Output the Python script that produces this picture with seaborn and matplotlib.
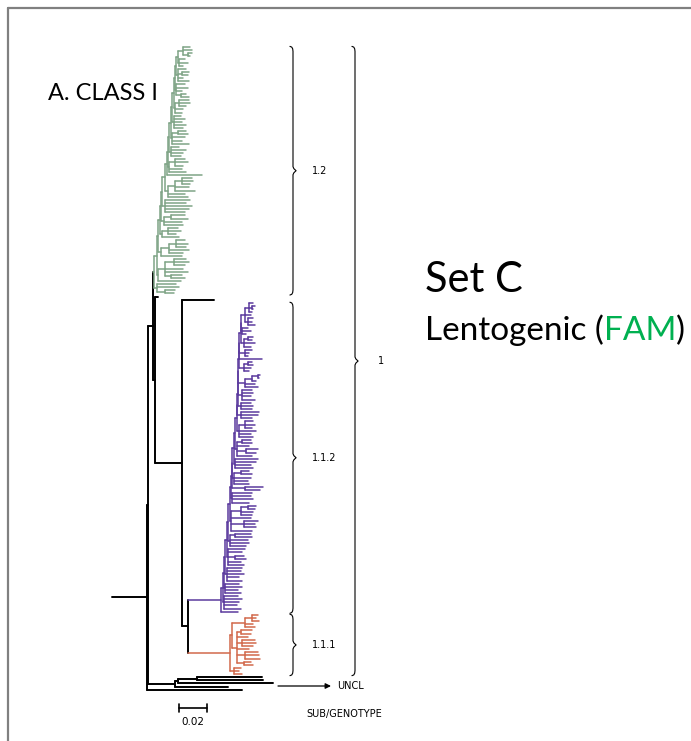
import matplotlib
matplotlib.use("Agg")
import matplotlib.pyplot as plt
import seaborn as sns
import pandas as pd
from matplotlib.lines import Line2D

# node / tip depths in 0.001 substitutions per site, counted from the left end of the root branch
# green clade (1.2) is a ladder: spine nodes and the groups hanging off them, listed top to bottom
GREEN_SPINE = [47, 46, 45, 44, 43, 42, 41, 40, 39, 38, 36, 35, 34, 33, 32, 30]
GREEN_GROUPS = [
    (51, [56, 57, (54, [57, 56])]),
    (48, [52, 54, 51]),
    (47, [53, (50, [55, 54]), 51, 55]),
    (46, [52, 54, 50, (49, [53, 55])]),
    (45, [(48, [55, 56, 53]), 51, 50]),
    (44, [49, 52, 50, 53, 51]),
    (43, [(47, [53, 54]), 52, 50, 55]),
    (42, [48, 53, 51, 49]),
    (41, [(45, [52, 54, 51]), 50, 53]),
    64,
    (40, [(45, [(50, [57, 58, 56]), 55, 59]), 52, 54]),
    (38, [56, 53, 57, 55, 52]),
    (37, [(42, [52, 54]), 50, 51]),
    (36, [(40, [47, 49, 46]), 48]),
    (35, [(41, [(46, [52, 54, 53]), 55, 51]), 50]),
    (33, [(38, [(44, [53, 55, 52]), 51, 54, (42, [50, 52])]), 49]),
    (32, [46, 48, (38, [45, 44])]),
]

# purple clade (1.1.2)
PURPLE_ROOT = 78
PURPLE_BASAL_TIP = 90
PURPLE_SPINE = [92, 92, 91, 91, 91, 90, 90, 90, 89, 89, 88, 87, 86, 86, 85, 84, 83, 82, 81, 80, 79]
PURPLE_GROUPS = [
    (95, [(98, [101, (100, [102, 101]), 100]), 99, (97, [101, 100, 102])]),
    (93, [97, 99, 96]),
    (94, [(97, [101, 100]), 102, 99]),
    (95, [100, 98, 97]),
    107,
    (94, [(97, [100, 101]), 99, 98]),
    (95, [(100, [(104, [106, 105]), 103]), 102, 104]),
    (93, [100, 101, 99, 102]),
    (92, [99, 101, 100]),
    (92, [105, 104, 100]),
    (91, [(95, [101, 102, 100]), 103, 99, 101]),
    (89, [(93, [99, 100]), 98, (96, [104, 103]), 100]),
    (88, [104, 103, 99, 101]),
    (87, [(92, [98, 100]), 99, 97, 98]),
    (95, [108, 106]),
    (86, [100, 99, 101, 98]),
    (85, [(92, [(97, [103, 102]), 101, 100]), 99, (94, [104, 102, 103]), 100]),
    (84, [(88, [99, 100]), 97, 98, 96]),
    (83, [95, 93, (88, [94, 96]), 92, 94]),
    (82, [93, 92, 94, 91, 93]),
    (81, [91, 93, 90, 92]),
    (80, [90, 93, 91, 89, 92]),
]

# orange clade (1.1.1)
ORANGE_ROOT = 84
ORANGE_CHILDREN = [
    (86, [(95, [(100, [104, 103, 105]), 101, 102]),
          (89, [(92, [100, 99]), 97, (93, [102, 103, 101]), 98, (95, [104, 105, 106]), (94, [99, 101])])]),
    (87, [92, 91, 93]),
]

# black backbone and unclassified sequences
NODE_R, NODE_A, NODE_B, NODE_C, NODE_D, NODE_E = 25, 26, 29, 31, 50, 54
STUB_TIP, LONG_TIP = 33, 73
UNCL_CLADE = (45, [(47, [(61, [107, 108]), 115]), 83])
UNCL_TIP = 93

SCALE_BAR = 0.02
PALETTE = {"1.2": "#7fa486", "1.1.2": "#5b3a9e", "1.1.1": "#d2694c"}


def ladder(spine, groups):
    node = groups[0]
    for depth, grp in zip(spine, groups[1:]):
        node = (depth, [node, grp])
    return node


green = {"clade": "1.2", "tree": ladder(GREEN_SPINE, GREEN_GROUPS)}
purple = {"clade": "1.1.2", "tree": (PURPLE_ROOT, [ladder(PURPLE_SPINE, PURPLE_GROUPS), PURPLE_BASAL_TIP])}
orange = {"clade": "1.1.1", "tree": (ORANGE_ROOT, ORANGE_CHILDREN)}
tree = (NODE_R, [
    (NODE_A, [
        (NODE_B, [green, (NODE_C, [STUB_TIP, (NODE_D, [LONG_TIP, (NODE_E, [purple, orange])])])]),
        UNCL_CLADE]),
    UNCL_TIP])

rows = []
leaves = {}
counter = [0]


def add_seg(x0, x1, y0, y1, clade):
    s = len(rows) // 2
    rows.append((s, x0, y0, clade))
    rows.append((s, x1, y1, clade))


def walk(node, parent, clade):
    if isinstance(node, dict):
        return walk(node["tree"], parent, node["clade"])
    if not isinstance(node, tuple):
        y = counter[0]
        counter[0] += 1
        leaves.setdefault(clade, []).append(y)
        add_seg(parent, node, y, y, clade)
        return y
    depth, kids = node
    ys = [walk(k, depth, clade) for k in kids]
    y = (ys[0] + ys[-1]) / 2
    add_seg(depth, depth, ys[0], ys[-1], clade)
    add_seg(parent, depth, y, y, clade)
    return y


walk(tree, 0, "other")
df = pd.DataFrame(rows, columns=["seg", "x", "y", "clade"])

sns.set_style("white")
plt.rcParams["text.color"] = "black"
W, H = 691, 741
fig = plt.figure(figsize=(W / 100, H / 100), dpi=100)
ax = fig.add_axes([0, 0, 1, 1])

sns.lineplot(data=df[df.clade == "other"], x="x", y="y", units="seg", estimator=None,
             sort=False, color="black", linewidth=1.4, ax=ax)
sns.lineplot(data=df[df.clade != "other"], x="x", y="y", units="seg", estimator=None,
             sort=False, hue="clade", palette=PALETTE, linewidth=1.1, legend=False, ax=ax)

# map data units onto the page
PX0, PX_PER_UNIT = 112, 1.4
PY0, PY_PER_LEAF = 47, 3.12
ax.set_xlim(-PX0 / PX_PER_UNIT, (W - PX0) / PX_PER_UNIT)
ax.set_ylim((H - PY0) / PY_PER_LEAF, -PY0 / PY_PER_LEAF)
ax.set_axis_off()


def dx(px):
    return (px - PX0) / PX_PER_UNIT


def dy(py):
    return (py - PY0) / PY_PER_LEAF


def brace(x, y0, y1, label, label_x):
    w, h = 2.2, 1.6
    ym = (y0 + y1) / 2
    xs = [x - w, x - 0.4 * w, x - 0.1 * w, x, x, x + 0.3 * w, x + w, x + 0.3 * w, x, x, x - 0.1 * w, x - 0.4 * w, x - w]
    ys = [y0, y0 + 0.15 * h, y0 + 0.5 * h, y0 + h, ym - 0.8 * h, ym - 0.4 * h, ym, ym + 0.4 * h, ym + 0.8 * h,
          y1 - h, y1 - 0.5 * h, y1 - 0.15 * h, y1]
    ax.plot(xs, ys, color="black", lw=0.8)
    ax.text(label_x, ym, label, fontsize=7, va="center", ha="left", family="DejaVu Sans", color="black")


for name in ["1.2", "1.1.2", "1.1.1"]:
    ys = leaves[name]
    brace(dx(293), min(ys) - 0.2, max(ys) + 0.5, name, dx(312))
brace(dx(355), min(leaves["1.2"]) - 0.2, max(leaves["1.1.1"]) + 0.5, "1", dx(378))

# unclassified arrow
ax.annotate("", xy=(dx(331), dy(686)), xytext=(dx(278), dy(686)),
            arrowprops=dict(arrowstyle="-|>", color="black", lw=0.9, mutation_scale=8, shrinkA=0, shrinkB=0))
ax.text(dx(337), dy(686), "UNCL", fontsize=7, va="center", ha="left", family="DejaVu Sans", color="black")
ax.text(dx(306), dy(714), "SUB/GENOTYPE", fontsize=7, va="center", ha="left", family="DejaVu Sans", color="black")

# scale bar
sx, sy = dx(179), dy(708)
ax.plot([sx, sx + SCALE_BAR * 1000], [sy, sy], color="black", lw=1.2)
ax.plot([sx, sx], [sy - 1.3, sy + 1.3], color="black", lw=1.2)
ax.plot([sx + SCALE_BAR * 1000] * 2, [sy - 1.3, sy + 1.3], color="black", lw=1.2)
ax.text(sx + SCALE_BAR * 500, dy(722), f"{SCALE_BAR}", fontsize=7.5, ha="center", va="center",
        family="DejaVu Sans", color="black")

# titles
fig.text(48 / W, 1 - 94 / H, "A. CLASS I", fontsize=17, family="Lato", va="center", ha="left", color="black")
fig.text(425 / W, 1 - 280 / H, "Set C", fontsize=30, family="Lato", va="center", ha="left", color="black")
t1 = fig.text(425 / W, 1 - 346 / H, "Lentogenic (", fontsize=24, family="Lato", va="bottom", ha="left",
              color="black")
t2 = ax.annotate("FAM", xy=(1, 0), xycoords=t1, fontsize=24, family="Lato", color="#00b050",
                 va="bottom", ha="left")
ax.annotate(")", xy=(1, 0), xycoords=t2, fontsize=24, family="Lato", va="bottom", ha="left", color="black")

# page frame
fig.add_artist(Line2D([8 / W, 8 / W], [0, 1 - 8 / H], transform=fig.transFigure, color="#808080", lw=1.6))
fig.add_artist(Line2D([8 / W, 1], [1 - 8 / H, 1 - 8 / H], transform=fig.transFigure, color="#808080", lw=1.6))

fig.savefig("out.png", dpi=100)
